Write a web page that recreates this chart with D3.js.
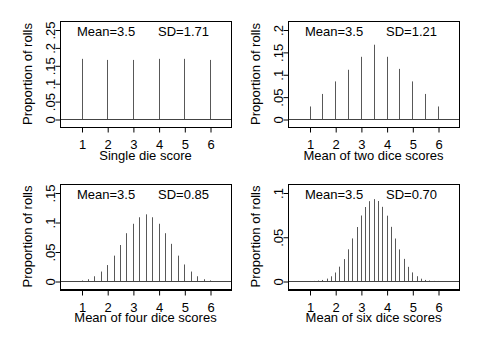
<!DOCTYPE html>
<html>
<head>
<meta charset="utf-8">
<script src="https://cdn.jsdelivr.net/npm/d3@7"></script>
<style>
    body { margin: 0; background: #fff; }
    svg { display: block; font-family: "Liberation Sans", Arial, sans-serif; }
</style>
</head>
<body>
<div id="chart"></div>
<script>
// single die
const singleX = [1, 2, 3, 4, 5, 6];
const singleP = [0.168, 0.165, 0.165, 0.168, 0.168, 0.165];
const singleTicks = [0, 0.05, 0.1, 0.15, 0.2, 0.25];

// mean of two dice
const twoX = [1, 1.5, 2, 2.5, 3, 3.5, 4, 4.5, 5, 5.5, 6];
const twoP = [0.028, 0.056, 0.084, 0.110, 0.139, 0.166, 0.139, 0.112, 0.084, 0.056, 0.028];
const twoTicks = [0, 0.05, 0.1, 0.15, 0.2];

// mean of four dice
const fourX = [1, 1.25, 1.5, 1.75, 2, 2.25, 2.5, 2.75, 3, 3.25, 3.5, 3.75, 4, 4.25, 4.5, 4.75, 5, 5.25, 5.5, 5.75, 6];
const fourP = [0.0008, 0.003, 0.008, 0.016, 0.027, 0.043, 0.061, 0.081, 0.097, 0.108, 0.113, 0.108, 0.097, 0.081, 0.063, 0.043, 0.028, 0.016, 0.008, 0.003, 0.001];
const fourTicks = [0, 0.05, 0.1, 0.15];

// mean of six dice
const sixX = [1, 1.167, 1.333, 1.5, 1.667, 1.833, 2, 2.167, 2.333, 2.5, 2.667, 2.833, 3, 3.167, 3.333, 3.5,
    3.667, 3.833, 4, 4.167, 4.333, 4.5, 4.667, 4.833, 5, 5.167, 5.333, 5.5, 5.667, 5.833, 6];
const sixP = [0.00002, 0.0001, 0.0005, 0.0012, 0.0027, 0.0053, 0.0096, 0.0162, 0.0248, 0.0358, 0.0481, 0.0610,
    0.0740, 0.0836, 0.0902, 0.0925, 0.0904, 0.0838, 0.0738, 0.0612, 0.0480, 0.0357, 0.0250, 0.0160,
    0.0097, 0.0054, 0.0026, 0.0012, 0.0005, 0.0001, 0.00002];
const sixTicks = [0, 0.05, 0.1];

const xTicks = [1, 2, 3, 4, 5, 6];

const svg = d3.select("#chart").append("svg")
    .attr("width", 481)
    .attr("height", 351);

class DicePanel {
    constructor(box, xs, ps, yTicks, xTitle, meanText, sdText, thickBottom) {
        this.box = box;
        this.data = xs.map((x, i) => ({ x: x, p: ps[i] }));
        this.yTicks = yTicks;
        this.xTitle = xTitle;
        this.meanText = meanText;
        this.sdText = sdText;
        this.thickBottom = thickBottom;
        this.initVis();
    }

    initVis() {
        let vis = this;
        let b = vis.box;

        vis.g = svg.append("g");

        vis.xScale = d3.scaleLinear()
            .domain([1, 6])
            .range([b.left + 21.5, b.right - 21]);

        vis.yScale = d3.scaleLinear()
            .domain([0, d3.max(vis.yTicks)])
            .range([b.bottom - 8, b.top + 8.5]);

        // spikes
        vis.g.selectAll(".bar")
            .data(vis.data)
            .enter()
            .append("line")
            .attr("class", "bar")
            .attr("x1", d => Math.round(vis.xScale(d.x)) + 0.5)
            .attr("x2", d => Math.round(vis.xScale(d.x)) + 0.5)
            .attr("y1", vis.yScale(0))
            .attr("y2", d => vis.yScale(d.p))
            .attr("stroke", "#585858")
            .attr("stroke-width", 1);

        // zero line
        vis.g.append("line")
            .attr("x1", b.left)
            .attr("x2", b.right)
            .attr("y1", Math.round(vis.yScale(0)) + 0.5)
            .attr("y2", Math.round(vis.yScale(0)) + 0.5)
            .attr("stroke", "#444")
            .attr("stroke-width", 1);

        // frame
        vis.g.append("rect")
            .attr("x", b.left + 0.5)
            .attr("y", b.top + 0.5)
            .attr("width", b.right - b.left)
            .attr("height", b.bottom - b.top)
            .attr("fill", "none")
            .attr("stroke", "#000")
            .attr("stroke-width", 1);

        if (vis.thickBottom) {
            vis.g.append("line")
                .attr("x1", b.left)
                .attr("x2", b.right + 1)
                .attr("y1", b.bottom + 1)
                .attr("y2", b.bottom + 1)
                .attr("stroke", "#000")
                .attr("stroke-width", 2);
        }

        // x axis
        vis.xAxis = d3.axisBottom(vis.xScale)
            .tickValues(xTicks)
            .tickSize(5)
            .tickPadding(7)
            .tickFormat(d3.format("d"));

        vis.xAxisGroup = vis.g.append("g")
            .attr("transform", `translate(0.5, ${b.bottom + (vis.thickBottom ? 1.5 : 0.5)})`)
            .call(vis.xAxis);
        vis.xAxisGroup.select(".domain").remove();
        vis.xAxisGroup.selectAll("text")
            .style("font-size", "13px")
            .style("font-family", "Liberation Sans, Arial, sans-serif")
            .attr("fill", "#000");
        vis.xAxisGroup.selectAll("line").attr("stroke", "#000");

        // y axis
        vis.yAxis = d3.axisLeft(vis.yScale)
            .tickValues(vis.yTicks)
            .tickSize(5)
            .tickFormat(d => d === 0 ? "0" : d3.format(".2~f")(d).replace(/^0/, ""));

        vis.yAxisGroup = vis.g.append("g")
            .attr("transform", `translate(${b.left + 0.5}, 0.5)`)
            .call(vis.yAxis);
        vis.yAxisGroup.select(".domain").remove();
        vis.yAxisGroup.selectAll("line").attr("stroke", "#000");
        vis.yAxisGroup.selectAll("text")
            .attr("x", null)
            .attr("dy", null)
            .attr("transform", "translate(-6, 0) rotate(-90)")
            .attr("text-anchor", "middle")
            .attr("fill", "#000")
            .style("font-size", "13px")
            .style("font-family", "Liberation Sans, Arial, sans-serif");

        // axis titles
        vis.g.append("text")
            .attr("x", (b.left + b.right) / 2)
            .attr("y", b.bottom + 33)
            .attr("text-anchor", "middle")
            .style("font-size", "13px")
            .text(vis.xTitle);

        vis.g.append("text")
            .attr("transform", `translate(${b.left - 28}, ${(b.top + b.bottom) / 2}) rotate(-90)`)
            .attr("text-anchor", "middle")
            .style("font-size", "13px")
            .text("Proportion of rolls");

        // summary text
        vis.g.append("text")
            .attr("x", b.left + 17)
            .attr("y", b.top + 14.5)
            .style("font-size", "13px")
            .text(vis.meanText);

        vis.g.append("text")
            .attr("x", b.left + 98)
            .attr("y", b.top + 14.5)
            .style("font-size", "13px")
            .text(vis.sdText);
    }
}

new DicePanel({ left: 60, right: 231, top: 21, bottom: 127 }, singleX, singleP, singleTicks,
    "Single die score", "Mean=3.5", "SD=1.71", false);
new DicePanel({ left: 288, right: 459, top: 21, bottom: 127 }, twoX, twoP, twoTicks,
    "Mean of two dice scores", "Mean=3.5", "SD=1.21", false);
new DicePanel({ left: 60, right: 231, top: 184, bottom: 289 }, fourX, fourP, fourTicks,
    "Mean of four dice scores", "Mean=3.5", "SD=0.85", true);
new DicePanel({ left: 288, right: 459, top: 184, bottom: 289 }, sixX, sixP, sixTicks,
    "Mean of six dice scores", "Mean=3.5", "SD=0.70", true);
</script>
</body>
</html>
